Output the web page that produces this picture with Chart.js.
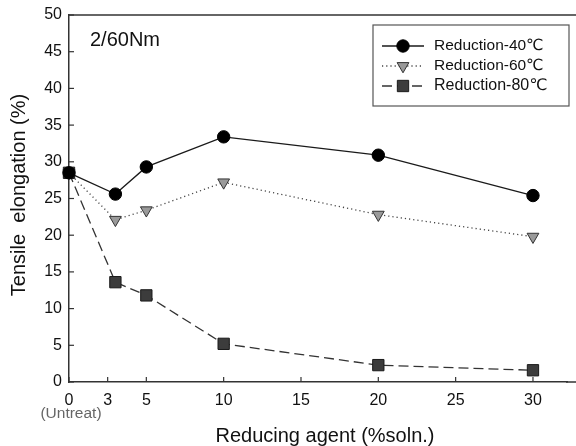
<!DOCTYPE html>
<html><head><meta charset="utf-8">
<script src="https://cdn.jsdelivr.net/npm/chart.js@4.4.1/dist/chart.umd.min.js"></script>
<style>html,body{margin:0;padding:0;background:#fff}#wrap{width:576px;height:446px;position:relative}</style>
</head><body><div id="wrap"><canvas id="c" width="576" height="446"></canvas></div>
<script>
const xValues = [0, 3, 5, 10, 20, 30];
const seriesNames = ['Reduction-40\u2103', 'Reduction-60\u2103', 'Reduction-80\u2103'];
const red40 = [28.5, 25.6, 29.3, 33.4, 30.9, 25.4];
const red60 = [28.5, 22.1, 23.4, 27.2, 22.8, 19.8];
const red80 = [28.5, 13.6, 11.8, 5.2, 2.3, 1.6];
const xTickValues = [0, 2.5, 5, 10, 15, 20, 25, 30];
const xTickLabels = ['0', '3', '5', '10', '15', '20', '25', '30'];
const yTickValues = [0, 5, 10, 15, 20, 25, 30, 35, 40, 45, 50];

const FONT = "'Liberation Sans', Arial, 'DejaVu Sans', sans-serif";
const pts = arr => xValues.map((x, i) => ({x: x, y: arr[i]}));

const styles = [
  {borderColor:'#1a1a1a', borderDash:[], pointStyle:'circle', pointRadius:6.2, pointBackgroundColor:'#000', pointBorderColor:'#000', rotation:0},
  {borderColor:'#444', borderDash:[1.2,3], pointStyle:'triangle', pointRadius:6.8, pointBackgroundColor:'#9a9a9a', pointBorderColor:'#333', rotation:180},
  {borderColor:'#333', borderDash:[10,5], pointStyle:'rect', pointRadius:8, pointBackgroundColor:'#3c3c3c', pointBorderColor:'#1a1a1a', rotation:0}
];
const allData = [red40, red60, red80];

const datasets = allData.map((d, i) => ({
  label: seriesNames[i],
  data: pts(d),
  borderColor: styles[i].borderColor,
  borderWidth: 1.3,
  borderDash: styles[i].borderDash,
  pointStyle: styles[i].pointStyle,
  pointRadius: styles[i].pointRadius,
  pointHoverRadius: styles[i].pointRadius,
  pointBackgroundColor: styles[i].pointBackgroundColor,
  pointBorderColor: styles[i].pointBorderColor,
  pointBorderWidth: 1,
  pointRotation: styles[i].rotation,
  tension: 0,
  fill: false,
  clip: false
}));

const deco = {
  id: 'deco',
  afterDraw(chart) {
    const ctx = chart.ctx, a = chart.chartArea;
    const xs = chart.scales.x, ys = chart.scales.y;
    ctx.save();
    // frame lines (top and bottom run to the canvas edge)
    ctx.strokeStyle = '#333'; ctx.lineWidth = 1.5;
    ctx.beginPath(); ctx.moveTo(a.left, a.top); ctx.lineTo(chart.width, a.top); ctx.stroke();
    ctx.beginPath(); ctx.moveTo(a.right - 1, a.bottom); ctx.lineTo(chart.width, a.bottom); ctx.stroke();
    // inward ticks
    ctx.lineWidth = 1.2;
    yTickValues.forEach(v => {
      const y = ys.getPixelForValue(v);
      ctx.beginPath(); ctx.moveTo(a.left, y); ctx.lineTo(a.left + 5, y); ctx.stroke();
    });
    xTickValues.forEach(v => {
      const x = xs.getPixelForValue(v);
      ctx.beginPath(); ctx.moveTo(x, a.bottom); ctx.lineTo(x, a.bottom - 5); ctx.stroke();
    });
    // (Untreat)
    ctx.fillStyle = '#666'; ctx.font = '15.5px ' + FONT; ctx.textAlign = 'center'; ctx.textBaseline = 'middle';
    ctx.fillText('(Untreat)', xs.getPixelForValue(0) + 2, 414);
    // axis titles
    ctx.fillStyle = '#111'; ctx.font = '20px ' + FONT;
    ctx.fillText('Reducing agent (%soln.)', 325, 436);
    ctx.save(); ctx.translate(19, 195); ctx.rotate(-Math.PI / 2);
    ctx.fillText('Tensile  elongation (%)', 0, 0);
    ctx.restore();
    // annotation
    ctx.textAlign = 'left';
    ctx.fillText('2/60Nm', 90, 40);
    // legend
    ctx.fillStyle = '#fff'; ctx.strokeStyle = '#555'; ctx.lineWidth = 1.2;
    ctx.fillRect(373, 25, 196, 81); ctx.strokeRect(373, 25, 196, 81);
    chart.data.datasets.forEach((ds, i) => {
      const y = 46 + i * 20;
      ctx.strokeStyle = ds.borderColor; ctx.lineWidth = 1.3; ctx.setLineDash(ds.borderDash);
      ctx.beginPath(); ctx.moveTo(382, y); ctx.lineTo(424, y); ctx.stroke();
      ctx.setLineDash([]);
      ctx.fillStyle = ds.pointBackgroundColor; ctx.strokeStyle = ds.pointBorderColor; ctx.lineWidth = 1;
      Chart.helpers.drawPoint(ctx, {pointStyle: ds.pointStyle, rotation: ds.pointRotation, radius: ds.pointRadius, borderWidth: 1}, 403, y);
      ctx.fillStyle = '#111'; ctx.font = (i === 2 ? '16px ' : '15.5px ') + FONT; ctx.textAlign = 'left';
      ctx.fillText(ds.label, 434, y);
    });
    ctx.restore();
  }
};

new Chart(document.getElementById('c'), {
  type: 'line',
  data: { datasets: datasets },
  plugins: [deco],
  options: {
    responsive: false,
    animation: false,
    layout: { padding: { left: 0, right: 0, top: 15, bottom: 0 } },
    plugins: { legend: { display: false }, tooltip: { enabled: false } },
    scales: {
      x: {
        type: 'linear', min: 0, max: 32.2,
        afterFit(s) { s.height = 64; s.paddingRight = 0; s.paddingLeft = 0; },
        afterBuildTicks(s) { s.ticks = xTickValues.map(v => ({value: v})); },
        ticks: {
          padding: 9, color: '#111', font: { family: FONT, size: 16 },
          callback: v => xTickLabels[xTickValues.indexOf(v)], maxRotation: 0, autoSkip: false
        },
        grid: { display: false, drawTicks: false },
        border: { display: true, color: '#333', width: 1.5 }
      },
      y: {
        type: 'linear', min: 0, max: 50,
        afterFit(s) { s.width = 69; s.paddingTop = 0; s.paddingBottom = 0; },
        afterBuildTicks(s) { s.ticks = yTickValues.map(v => ({value: v})); },
        ticks: { padding: 7, color: '#111', font: { family: FONT, size: 16 } },
        grid: { display: false, drawTicks: false },
        border: { display: true, color: '#333', width: 1.5 }
      }
    }
  }
});
</script></body></html>
